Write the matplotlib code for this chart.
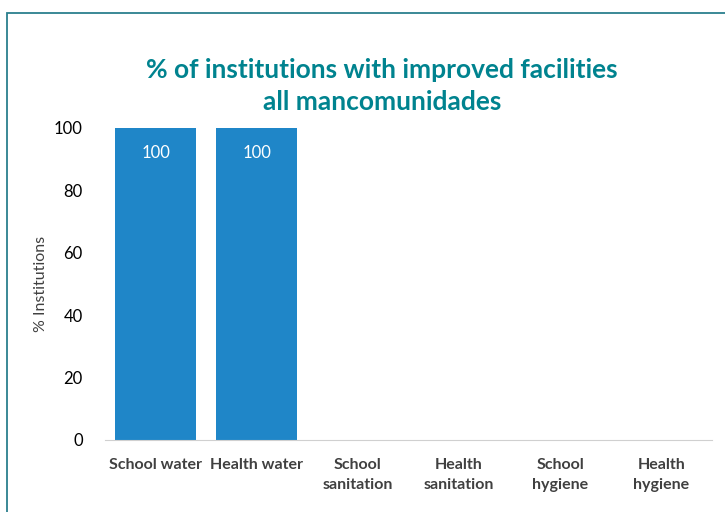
import matplotlib.pyplot as plt
from matplotlib.patches import Rectangle

categories = ['School water', 'Health water', 'School\nsanitation',
              'Health\nsanitation', 'School\nhygiene', 'Health\nhygiene']
values = [100, 100, 0, 0, 0, 0]
yticks = [0, 20, 40, 60, 80, 100]

plt.rcParams['font.family'] = ['Lato', 'DejaVu Sans']

fig = plt.figure(figsize=(7.25, 5.12), dpi=100)
ax = fig.add_axes([105 / 725, 1 - 440 / 512, 607 / 725, 312 / 512])

# frame round the whole chart
fig.patches.append(Rectangle((7 / 725, -0.1), 1.2, 1 - 13 / 512 + 0.1,
                             transform=fig.transFigure, fill=False,
                             edgecolor='#2b7f8e', linewidth=1.3))

x = list(range(len(categories)))
bars = ax.bar(x, values, width=0.8, color='#1f86c8')
for rect, v in zip(bars, values):
    if v > 0:
        ax.text(rect.get_x() + rect.get_width() / 2, v - 8, f'{v}',
                ha='center', va='center', color='white', fontsize=12)

ax.set_xlim(-0.5, len(categories) - 0.5)
ax.set_ylim(0, 100)
ax.set_yticks(yticks)
ax.set_xticks(x)
ax.set_xticklabels(categories, fontsize=11.5, fontweight='bold', color='#404040',
                   linespacing=1.55)
ax.tick_params(axis='both', length=0)
ax.tick_params(axis='y', labelsize=12, pad=16)
ax.tick_params(axis='x', pad=13)
for s in ['top', 'right', 'left']:
    ax.spines[s].set_visible(False)
ax.spines['bottom'].set_color('#d0d0d0')
ax.set_ylabel('% Institutions', fontsize=11.5, color='#404040', labelpad=4)

fig.text(382 / 725, 1 - 86 / 512,
         '% of institutions with improved facilities\nall mancomunidades',
         ha='center', va='center', fontsize=19, fontweight='bold',
         color='#00838f', linespacing=1.35)

fig.savefig('out.png', dpi=100)
